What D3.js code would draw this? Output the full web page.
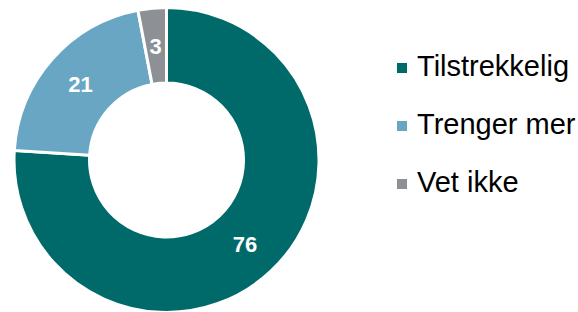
<!DOCTYPE html>
<html><head><meta charset="utf-8">
<script src="https://cdn.jsdelivr.net/npm/d3@7/dist/d3.min.js"></script>
<style>body{margin:0;background:#fff}svg{display:block}</style>
</head><body>
<script>
const categories = ["Tilstrekkelig", "Trenger mer", "Vet ikke"];
const values = [76, 21, 3];
const colors = ["#006a6b", "#68a6c4", "#8d9095"];

const W = 578, H = 312;
const cx = 166.5, cy = 160, rOuter = 152.5, rInner = 77;
const svg = d3.select("body").append("svg").attr("width", W).attr("height", H);
const g = svg.append("g").attr("transform", `translate(${cx},${cy})`);

const pie = d3.pie().sort(null).value(d => d.v);
const data = pie(categories.map((c, i) => ({c, v: values[i], col: colors[i]})));
const arc = d3.arc().innerRadius(rInner).outerRadius(rOuter);
const labelArc = d3.arc().innerRadius((rInner + rOuter) / 2).outerRadius((rInner + rOuter) / 2);

g.selectAll("path").data(data).join("path")
  .attr("d", arc).attr("fill", d => d.data.col)
  .attr("stroke", "#fff").attr("stroke-width", 3).attr("stroke-linejoin", "miter");

g.selectAll("text").data(data).join("text")
  .attr("transform", d => `translate(${labelArc.centroid(d)})`)
  .attr("text-anchor", "middle").attr("dy", "0.36em")
  .attr("fill", "#fff").attr("font-family", "Liberation Sans, Arial, sans-serif")
  .attr("font-weight", "bold").attr("font-size", 22)
  .text(d => d.data.v);

const legY = d3.scalePoint().domain(categories).range([68, 184]);
const leg = svg.append("g").selectAll("g").data(categories).join("g")
  .attr("transform", c => `translate(397,${legY(c)})`);
leg.append("rect").attr("x", 0).attr("y", -5).attr("width", 10).attr("height", 10)
  .attr("fill", (c, i) => colors[i]);
leg.append("text").attr("x", 20).attr("y", 7.5)
  .attr("font-family", "Liberation Sans, Arial, sans-serif").attr("font-size", 29)
  .attr("fill", "#000").text(c => c);
</script>
</body></html>
